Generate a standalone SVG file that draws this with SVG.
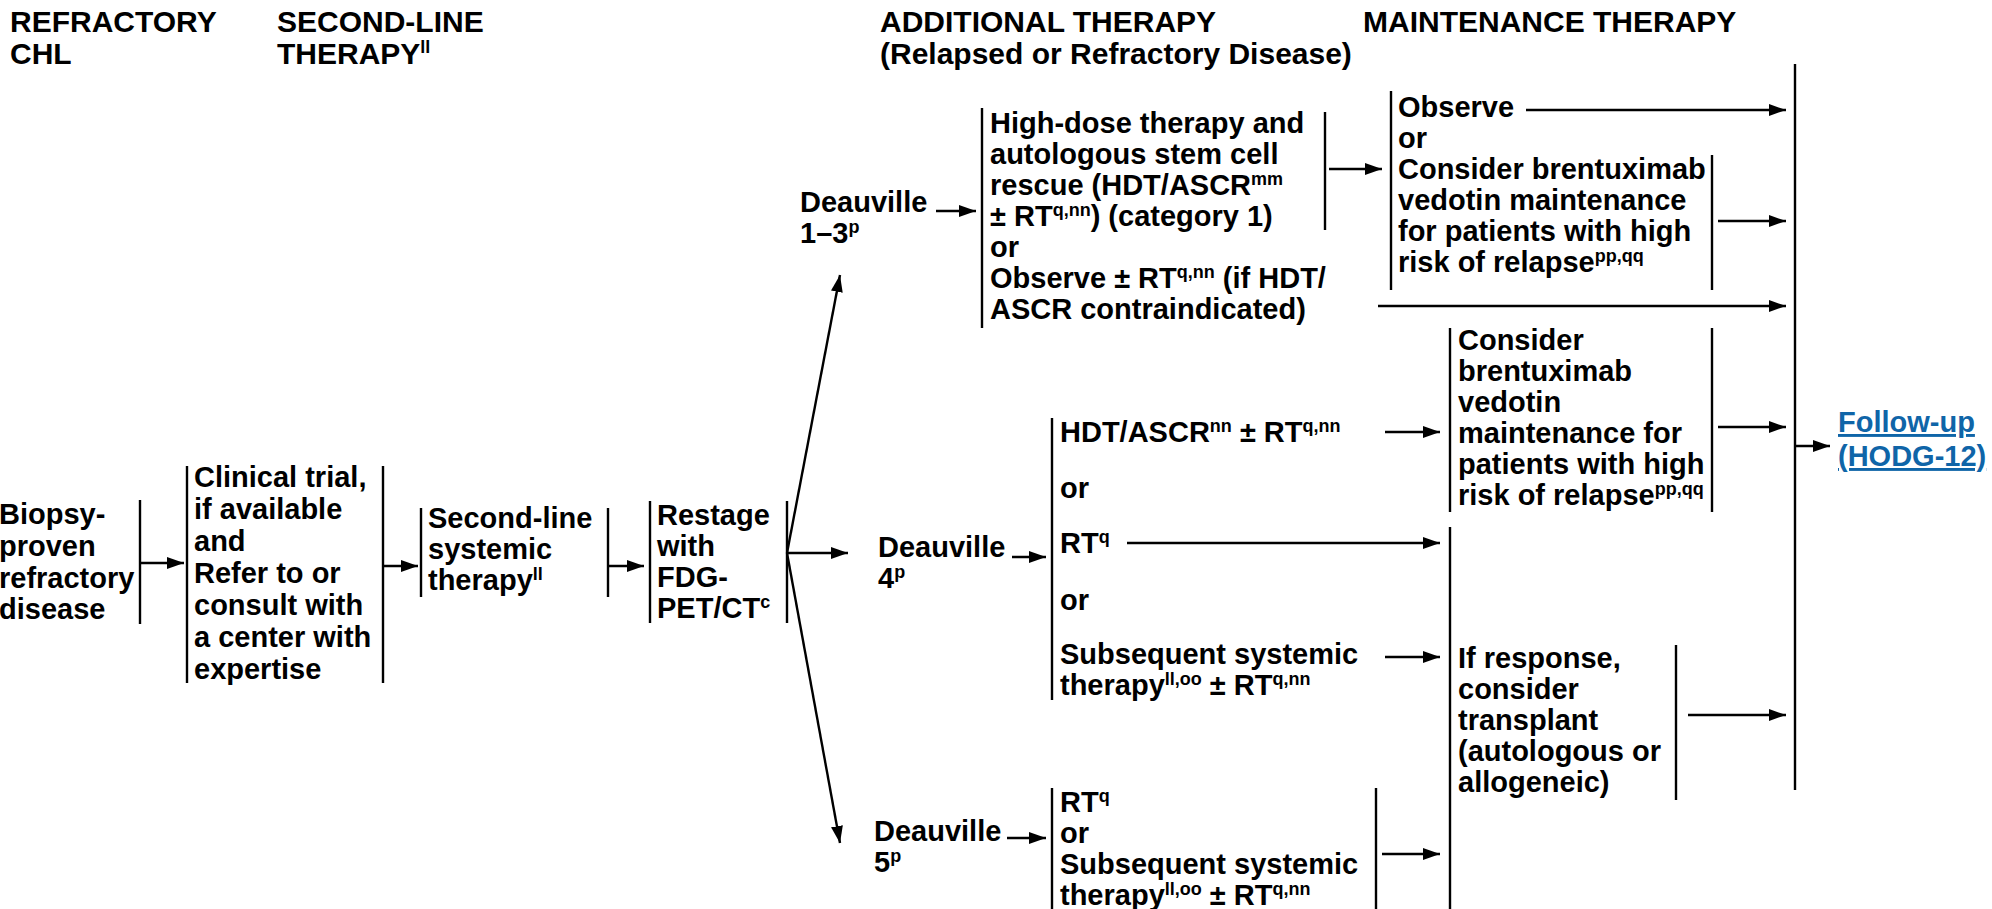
<svg xmlns="http://www.w3.org/2000/svg" width="1992" height="909" viewBox="0 0 1992 909">
  <style>
    .t { font-family: "Liberation Sans", Arial, Helvetica, sans-serif; font-weight: bold; font-size: 29px; fill: #000; }
    .h { font-size: 30px; }
    .sup { font-size: 18px; }
    .link { fill: #0f65a8; text-decoration: underline; }
    .br { stroke: #000; stroke-width: 2.4; fill: none; }
    .cn { stroke: #000; stroke-width: 2.4; fill: none; marker-end: url(#ah); }
  </style>
  <defs>
    <marker id="ah" markerUnits="userSpaceOnUse" markerWidth="18" markerHeight="13" refX="17" refY="6" orient="auto">
      <path d="M0,0 L17,6 L0,12 Z" fill="#000"/>
    </marker>
  </defs>
  <rect width="1992" height="909" fill="#fff"/>

  <!-- column headings -->
  <g id="headings" class="t h">
    <text x="10" y="32">REFRACTORY</text>
    <text x="10" y="64">CHL</text>
    <text x="277" y="32">SECOND-LINE</text>
    <text x="277" y="64">THERAPY<tspan class="sup" dy="-11">ll</tspan></text>
    <text x="880" y="32">ADDITIONAL THERAPY</text>
    <text x="880" y="64">(Relapsed or Refractory Disease)</text>
    <text x="1363" y="32">MAINTENANCE THERAPY</text>
  </g>

  <g id="biopsy" class="t">
    <text x="-1" y="524">Biopsy-</text>
    <text x="-1" y="556">proven</text>
    <text x="-1" y="588">refractory</text>
    <text x="-1" y="619">disease</text>
    <line class="br" x1="140" y1="500" x2="140" y2="624"/>
  </g>

  <g id="clinical-trial" class="t">
    <line class="br" x1="187" y1="466" x2="187" y2="683"/>
    <text x="194" y="487">Clinical trial,</text>
    <text x="194" y="519">if available</text>
    <text x="194" y="551">and</text>
    <text x="194" y="583">Refer to or</text>
    <text x="194" y="615">consult with</text>
    <text x="194" y="647">a center with</text>
    <text x="194" y="679">expertise</text>
    <line class="br" x1="383" y1="466" x2="383" y2="683"/>
  </g>

  <g id="second-line" class="t">
    <line class="br" x1="421" y1="508" x2="421" y2="597"/>
    <text x="428" y="528">Second-line</text>
    <text x="428" y="559">systemic</text>
    <text x="428" y="590">therapy<tspan class="sup" dy="-10">ll</tspan></text>
    <line class="br" x1="608" y1="508" x2="608" y2="597"/>
  </g>

  <g id="restage" class="t">
    <line class="br" x1="650" y1="501" x2="650" y2="623"/>
    <text x="657" y="525">Restage</text>
    <text x="657" y="556">with</text>
    <text x="657" y="587">FDG-</text>
    <text x="657" y="618">PET/CT<tspan class="sup" dy="-10">c</tspan></text>
    <line class="br" x1="787" y1="501" x2="787" y2="623"/>
  </g>

  <g id="deauville-1-3" class="t">
    <text x="800" y="212">Deauville</text>
    <text x="800" y="243">1–3<tspan class="sup" dy="-10">p</tspan></text>
  </g>

  <g id="hdt-ascr" class="t">
    <line class="br" x1="982" y1="108" x2="982" y2="328"/>
    <text x="990" y="133">High-dose therapy and</text>
    <text x="990" y="164">autologous stem cell</text>
    <text x="990" y="195">rescue (HDT/ASCR<tspan class="sup" dy="-10">mm</tspan></text>
    <text x="990" y="226">± RT<tspan class="sup" dy="-10">q,nn</tspan><tspan dy="10">) (category 1)</tspan></text>
    <text x="990" y="257">or</text>
    <text x="990" y="288">Observe ± RT<tspan class="sup" dy="-10">q,nn</tspan><tspan dy="10"> (if HDT/</tspan></text>
    <text x="990" y="319">ASCR contraindicated)</text>
    <line class="br" x1="1325" y1="112" x2="1325" y2="230"/>
  </g>

  <g id="observe-maintenance" class="t">
    <line class="br" x1="1391" y1="91" x2="1391" y2="290"/>
    <text x="1398" y="117">Observe</text>
    <text x="1398" y="148">or</text>
    <text x="1398" y="179">Consider brentuximab</text>
    <text x="1398" y="210">vedotin maintenance</text>
    <text x="1398" y="241">for patients with high</text>
    <text x="1398" y="272">risk of relapse<tspan class="sup" dy="-10">pp,qq</tspan></text>
    <line class="br" x1="1712" y1="155" x2="1712" y2="290"/>
  </g>

  <g id="deauville-4" class="t">
    <text x="878" y="557">Deauville</text>
    <text x="878" y="588">4<tspan class="sup" dy="-10">p</tspan></text>
  </g>

  <g id="deauville-4-options" class="t">
    <line class="br" x1="1052" y1="418" x2="1052" y2="700"/>
    <text x="1060" y="442">HDT/ASCR<tspan class="sup" dy="-10">nn</tspan><tspan dy="10"> ± RT</tspan><tspan class="sup" dy="-10">q,nn</tspan></text>
    <text x="1060" y="498">or</text>
    <text x="1060" y="553">RT<tspan class="sup" dy="-10">q</tspan></text>
    <text x="1060" y="610">or</text>
    <text x="1060" y="664">Subsequent systemic</text>
    <text x="1060" y="695">therapy<tspan class="sup" dy="-10">ll,oo</tspan><tspan dy="10"> ± RT</tspan><tspan class="sup" dy="-10">q,nn</tspan></text>
  </g>

  <g id="bv-maintenance" class="t">
    <line class="br" x1="1450" y1="328" x2="1450" y2="512"/>
    <text x="1458" y="350">Consider</text>
    <text x="1458" y="381">brentuximab</text>
    <text x="1458" y="412">vedotin</text>
    <text x="1458" y="443">maintenance for</text>
    <text x="1458" y="474">patients with high</text>
    <text x="1458" y="505">risk of relapse<tspan class="sup" dy="-10">pp,qq</tspan></text>
    <line class="br" x1="1712" y1="328" x2="1712" y2="512"/>
  </g>

  <g id="transplant" class="t">
    <line class="br" x1="1450" y1="527" x2="1450" y2="909"/>
    <text x="1458" y="668">If response,</text>
    <text x="1458" y="699">consider</text>
    <text x="1458" y="730">transplant</text>
    <text x="1458" y="761">(autologous or</text>
    <text x="1458" y="792">allogeneic)</text>
    <line class="br" x1="1676" y1="645" x2="1676" y2="800"/>
  </g>

  <g id="deauville-5" class="t">
    <text x="874" y="841">Deauville</text>
    <text x="874" y="872">5<tspan class="sup" dy="-10">p</tspan></text>
  </g>

  <g id="deauville-5-options" class="t">
    <line class="br" x1="1052" y1="788" x2="1052" y2="909"/>
    <text x="1060" y="812">RT<tspan class="sup" dy="-10">q</tspan></text>
    <text x="1060" y="843">or</text>
    <text x="1060" y="874">Subsequent systemic</text>
    <text x="1060" y="905">therapy<tspan class="sup" dy="-10">ll,oo</tspan><tspan dy="10"> ± RT</tspan><tspan class="sup" dy="-10">q,nn</tspan></text>
    <line class="br" x1="1376" y1="788" x2="1376" y2="909"/>
  </g>

  <g id="follow-up" class="t">
    <line class="br" x1="1795" y1="64" x2="1795" y2="790"/>
    <text class="link" x="1838" y="432">Follow-up </text>
    <text class="link" x="1838" y="466">(HODG-12)</text>
  </g>

  <!-- connectors -->
  <g id="connectors">
    <line class="cn" x1="140" y1="563" x2="184" y2="563"/>
    <line class="cn" x1="383" y1="566" x2="418" y2="566"/>
    <line class="cn" x1="608" y1="566" x2="644" y2="566"/>
    <line class="cn" x1="787" y1="553" x2="840" y2="275"/>
    <line class="cn" x1="787" y1="553" x2="848" y2="553"/>
    <line class="cn" x1="787" y1="553" x2="840" y2="843"/>
    <line class="cn" x1="936" y1="211" x2="976" y2="211"/>
    <line class="cn" x1="1329" y1="169" x2="1382" y2="169"/>
    <line class="cn" x1="1526" y1="110" x2="1786" y2="110"/>
    <line class="cn" x1="1718" y1="221" x2="1786" y2="221"/>
    <line class="cn" x1="1378" y1="306" x2="1786" y2="306"/>
    <line class="cn" x1="1012" y1="557" x2="1046" y2="557"/>
    <line class="cn" x1="1385" y1="432" x2="1440" y2="432"/>
    <line class="cn" x1="1127" y1="543" x2="1440" y2="543"/>
    <line class="cn" x1="1385" y1="657" x2="1440" y2="657"/>
    <line class="cn" x1="1718" y1="427" x2="1786" y2="427"/>
    <line class="cn" x1="1688" y1="715" x2="1786" y2="715"/>
    <line class="cn" x1="1007" y1="838" x2="1046" y2="838"/>
    <line class="cn" x1="1382" y1="854" x2="1440" y2="854"/>
    <line class="cn" x1="1795" y1="446" x2="1830" y2="446"/>
  </g>
</svg>
